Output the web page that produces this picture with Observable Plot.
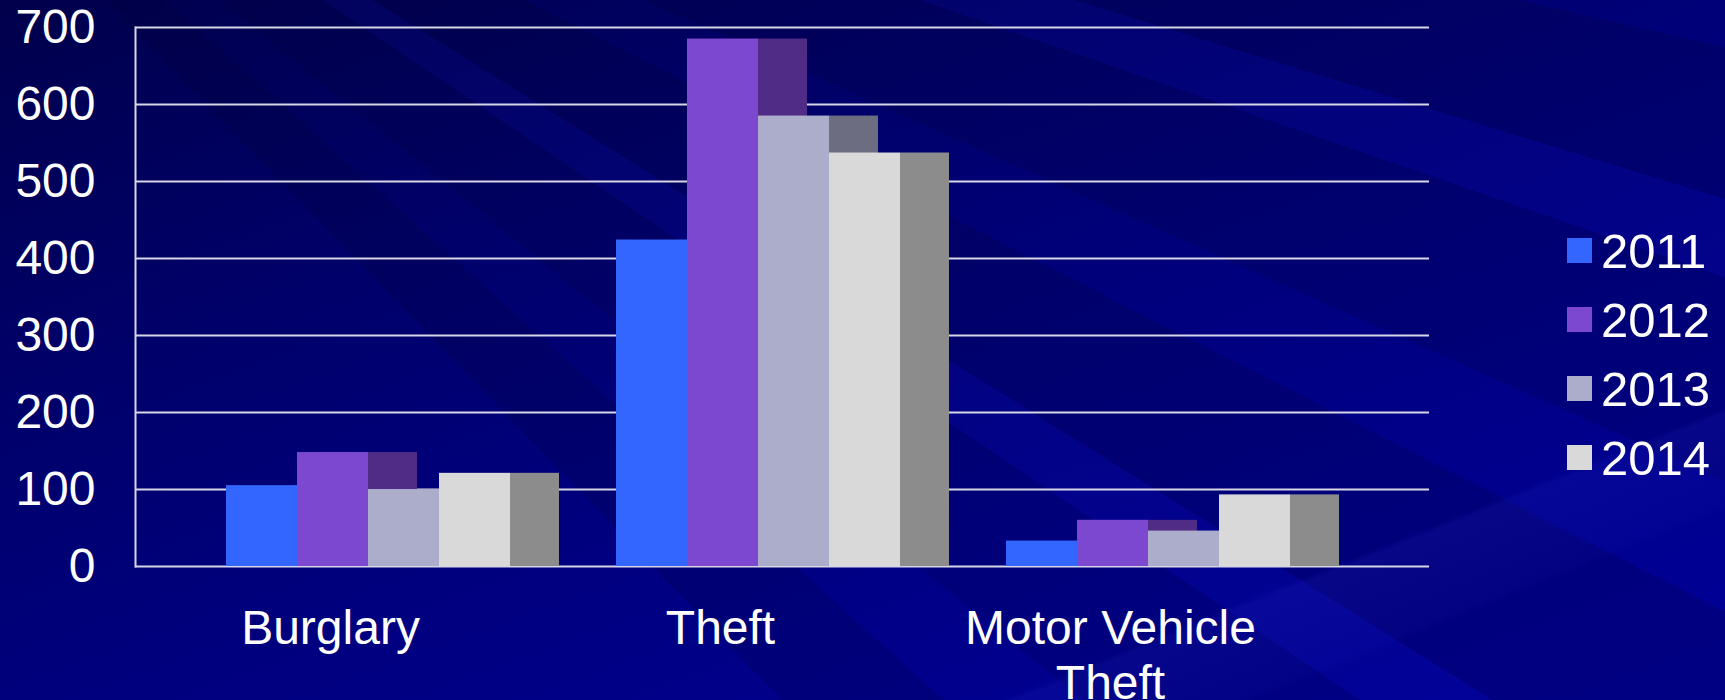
<!DOCTYPE html>
<html>
<head>
<meta charset="utf-8">
<script src="https://cdn.jsdelivr.net/npm/d3@7"></script>
<script src="https://cdn.jsdelivr.net/npm/@observablehq/plot@0.6"></script>
<style>
  html, body { margin: 0; padding: 0; }
  body {
    width: 1725px; height: 700px; overflow: hidden; position: relative;
    font-family: "Liberation Sans", Arial, sans-serif;
    background:
      linear-gradient(158deg, rgba(20,20,190,0) 0%, rgba(20,20,190,0) 79%, rgba(40,40,200,0.16) 79.5%, rgba(40,40,200,0.06) 86%, rgba(20,20,190,0) 86.5%),
      conic-gradient(from 95deg at -300px -420px,
        rgba(0,0,40,0.22) 0deg 5deg,
        rgba(0,0,0,0) 5deg 8deg,
        rgba(0,0,40,0.18) 8deg 12deg,
        rgba(30,30,200,0.08) 12deg 14deg,
        rgba(0,0,40,0.16) 14deg 19deg,
        rgba(0,0,0,0) 19deg 22deg,
        rgba(0,0,40,0.18) 22deg 27deg,
        rgba(30,30,200,0.08) 27deg 29deg,
        rgba(0,0,40,0.14) 29deg 34deg,
        rgba(0,0,0,0) 34deg 37deg,
        rgba(0,0,40,0.16) 37deg 41deg,
        rgba(0,0,0,0) 41deg 360deg),
      linear-gradient(160deg, #00004c 0%, #00006a 30%, #00007e 55%, #00008e 80%, #000098 100%);
  }
  #chart { position: absolute; left: 0; top: 0; }
  #legend { position: absolute; left: 1567px; top: 216px; color: white; font-size: 49px; }
  #legend .row { display: flex; align-items: center; height: 69px; }
  #legend .sw { width: 25px; height: 25px; margin-right: 9px; }
</style>
</head>
<body>
<div id="chart"></div>
<div id="legend"></div>
<script>
const categories = ["Burglary", "Theft", "Motor Vehicle\nTheft"];
const years = ["2011", "2012", "2013", "2014"];
const values2011 = [105, 424, 33];
const values2012 = [148, 685, 60];
const values2013 = [100, 585, 46];
const values2014 = [121, 537, 93];
const yTicks = [0, 100, 200, 300, 400, 500, 600, 700];
const frontColors = ["#3366ff", "#7b48cf", "#abadcb", "#d9d9d9"];
const sideColors = ["#2a4fc8", "#502c86", "#6c6d80", "#8c8c8c"];

const series = [values2011, values2012, values2013, values2014];
const rows = years.map((year, i) =>
  categories.map((category, j) => ({category, year, value: series[i][j]}))
);

// layout of sub-bars inside each 390px category band
const band = 390, lead = 91, barW = 71, sideW = 49;

const shadowMarks = rows.map((data, i) =>
  Plot.barY(data, {
    x: "category", y: "value", fill: sideColors[i],
    insetLeft: lead + barW * (i + 1),
    insetRight: band - (lead + barW * (i + 1) + sideW)
  })
);
const frontMarks = rows.map((data, i) =>
  Plot.barY(data, {
    x: "category", y: "value", fill: frontColors[i],
    insetLeft: lead + barW * i,
    insetRight: band - (lead + barW * (i + 1))
  })
);

const chart = Plot.plot({
  width: 1725,
  height: 700,
  marginLeft: 135,
  marginRight: 296,
  marginTop: 27,
  marginBottom: 134,
  x: {domain: categories, range: [135, 1305], padding: 0, axis: null},
  y: {domain: [0, 700], axis: null},
  style: {background: "transparent", color: "white", fontFamily: "'Liberation Sans', Arial, sans-serif", overflow: "visible"},
  marks: [
    Plot.ruleY(yTicks, {stroke: "#d6d6e6", strokeWidth: 2}),
    ...shadowMarks,
    ...frontMarks,
    Plot.frame({anchor: "left", stroke: "#d6d6e6", strokeWidth: 2}),
    Plot.axisY({ticks: yTicks, tickSize: 0, tickPadding: 40, fontSize: 48, fill: "white", label: null}),
    Plot.text(categories, {
      x: d => d, frameAnchor: "bottom", lineAnchor: "top", dy: 38,
      fontSize: 48, lineHeight: 1.15, fill: "white", textAnchor: "middle"
    })
  ]
});
document.getElementById("chart").appendChild(chart);

const legend = document.getElementById("legend");
years.forEach((year, i) => {
  const row = document.createElement("div");
  row.className = "row";
  const sw = document.createElement("div");
  sw.className = "sw";
  sw.style.background = frontColors[i];
  const label = document.createElement("span");
  label.textContent = year;
  row.appendChild(sw);
  row.appendChild(label);
  legend.appendChild(row);
});
</script>
</body>
</html>
